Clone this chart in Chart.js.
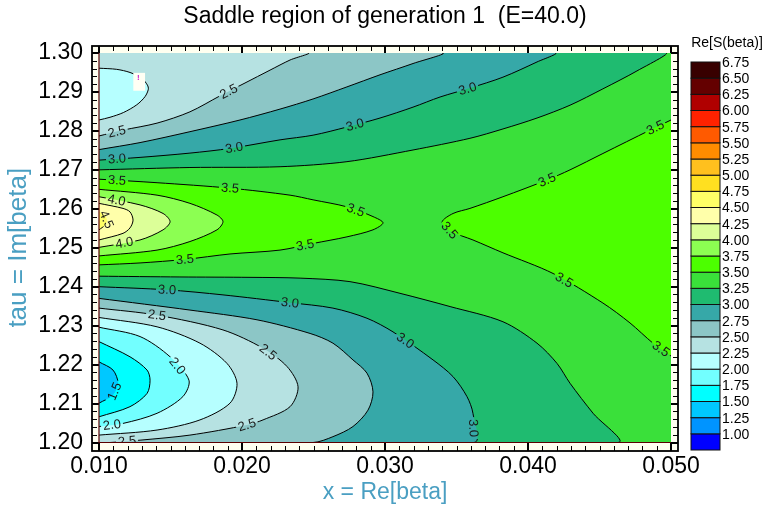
<!DOCTYPE html>
<html><head><meta charset="utf-8">
<script src="https://cdn.jsdelivr.net/npm/chart.js@4/dist/chart.umd.min.js"></script>
<style>html,body{margin:0;padding:0;background:#fff;}canvas{display:block;}</style>
</head><body>
<canvas id="c" width="763" height="506"></canvas>
<script>
const X_MIN = 0.010, X_MAX = 0.050, Y_MIN = 1.200, Y_MAX = 1.300;
const xTickValues = [0.010, 0.020, 0.030, 0.040, 0.050];
const xTickLabels = ['0.010', '0.020', '0.030', '0.040', '0.050'];
const yTickValues = [1.20, 1.21, 1.22, 1.23, 1.24, 1.25, 1.26, 1.27, 1.28, 1.29, 1.30];
const yTickLabels = ['1.20', '1.21', '1.22', '1.23', '1.24', '1.25', '1.26', '1.27', '1.28', '1.29', '1.30'];

// colour bands (lower bound of each band) and colours
const bandLevels = [0.75, 1.00, 1.25, 1.50, 1.75, 2.00, 2.25, 2.50, 2.75, 3.00, 3.25, 3.50,
                    3.75, 4.00, 4.25, 4.50, 4.75, 5.00, 5.25, 5.50, 5.75, 6.00, 6.25, 6.50];
const bandColors = ['#0000ff', '#0094ff', '#00c8ff', '#00ffff', '#72ffff', '#b6ffff', '#b6e2e2', '#8cc6c6',
                    '#36a8a8', '#1fbb70', '#3ae03a', '#4cff00', '#8cff52', '#dcff98', '#ffffaa', '#ffff66',
                    '#ffe020', '#ffc01e', '#ff8c00', '#ff5a00', '#ff2200', '#b00000', '#640000', '#380000'];
const colorbarLabels = ['1.00', '1.25', '1.50', '1.75', '2.00', '2.25', '2.50', '2.75', '3.00', '3.25', '3.50', '3.75',
                        '4.00', '4.25', '4.50', '4.75', '5.00', '5.25', '5.50', '5.75', '6.00', '6.25', '6.50', '6.75'];

// contour lines: [x, tau]
const c225Top = [[0.0100,1.2961],[0.01124,1.2958],[0.01217,1.2950],[0.01299,1.2935],[0.01338,1.2918],[0.01345,1.2907],[0.01322,1.2888],[0.01264,1.2867],[0.01170,1.2847],[0.01077,1.2835],[0.0100,1.2828]];
const c25Top = [[0.0100,1.2787],[0.01168,1.2802],[0.01406,1.2820],[0.01636,1.2849],[0.01846,1.2890],[0.02021,1.2923],[0.02196,1.2956],[0.02336,1.2982],[0.02462,1.3000]];
const c275Top = [[0.0100,1.2752],[0.01287,1.2770],[0.01636,1.2798],[0.01986,1.2828],[0.02266,1.2856],[0.02497,1.2882],[0.02734,1.2913],[0.02965,1.2944],[0.03196,1.2973],[0.03399,1.3000]];
const c30Top = [[0.0100,1.2725],[0.01287,1.2732],[0.01636,1.2743],[0.01916,1.2755],[0.02266,1.2777],[0.02497,1.2789],[0.02734,1.2810],[0.02965,1.2833],[0.03196,1.2861],[0.03385,1.2887],[0.03594,1.2910],[0.03825,1.2938],[0.04063,1.2977],[0.04189,1.3000]];
const c325Top = [[0.0100,1.2700],[0.01636,1.2706],[0.02266,1.2708],[0.02734,1.2721],[0.03196,1.2751],[0.03594,1.2781],[0.03825,1.2805],[0.04063,1.2833],[0.04294,1.2866],[0.04524,1.2908],[0.04762,1.2954],[0.04965,1.3000]];
const c35Left = [[0.0100,1.2676],[0.01406,1.2667],[0.01916,1.2653],[0.02336,1.2635],[0.02497,1.2623],[0.02734,1.2605],[0.02916,1.2580],[0.02986,1.2564],[0.02916,1.2546],[0.02734,1.2528],[0.02497,1.2511],[0.02266,1.2494],[0.01916,1.2484],[0.01601,1.2470],[0.01287,1.2461],[0.0100,1.2456]];
const c35Right = [[0.0500,1.2828],[0.04853,1.2802],[0.04524,1.2742],[0.04294,1.2700],[0.04133,1.2674],[0.03825,1.2631],[0.03594,1.2601],[0.03476,1.2588],[0.03399,1.2566],[0.03455,1.2543],[0.03615,1.2520],[0.03825,1.2487],[0.04175,1.2434],[0.04524,1.2358],[0.04713,1.2307],[0.04874,1.2255],[0.0500,1.2222]];
const c375Left = [[0.0100,1.2650],[0.01406,1.2635],[0.01636,1.2614],[0.01825,1.2584],[0.01867,1.2567],[0.01825,1.2546],[0.01636,1.2516],[0.01406,1.2494],[0.0100,1.2479]];
const c40Left = [[0.0100,1.2631],[0.01287,1.2610],[0.01448,1.2588],[0.01497,1.2567],[0.01448,1.2546],[0.01287,1.2520],[0.0100,1.2501]];
const c425Left = [[0.0100,1.2614],[0.01168,1.2601],[0.01217,1.2592],[0.01238,1.2571],[0.01217,1.2551],[0.01168,1.2537],[0.0100,1.2520]];
const c45Left = [[0.0100,1.2594],[0.01042,1.2582],[0.01056,1.2570],[0.01042,1.2558],[0.0100,1.2546]];
const c325Bot = [[0.0100,1.2427],[0.01566,1.2425],[0.02056,1.2424],[0.02406,1.2422],[0.02755,1.2413],[0.03105,1.2383],[0.03455,1.2349],[0.03825,1.2310],[0.04063,1.2255],[0.04203,1.2203],[0.04294,1.2152],[0.04455,1.2075],[0.04629,1.2000]];
const c30Bot = [[0.0100,1.2400],[0.01476,1.2392],[0.01867,1.2379],[0.02336,1.2359],[0.02636,1.2345],[0.02874,1.2319],[0.03056,1.2284],[0.03336,1.2212],[0.03476,1.2169],[0.03573,1.2118],[0.03615,1.2075],[0.03622,1.2000]];
const c275Bot = [[0.0100,1.2370],[0.01636,1.2340],[0.02105,1.2315],[0.02476,1.2280],[0.02636,1.2255],[0.02776,1.2212],[0.02874,1.2178],[0.02916,1.2130],[0.02881,1.2083],[0.02776,1.2041],[0.02636,1.2015],[0.02497,1.2000]];
const c25Bot = [[0.0100,1.2345],[0.01406,1.2327],[0.01867,1.2289],[0.02147,1.2242],[0.02315,1.2195],[0.02392,1.2143],[0.02336,1.2092],[0.02147,1.2058],[0.02035,1.2045],[0.01636,1.2019],[0.01287,1.2006],[0.01077,1.2000]];
const c225Bot = [[0.0100,1.2321],[0.01406,1.2297],[0.01706,1.2255],[0.01895,1.2203],[0.01965,1.2152],[0.01916,1.2101],[0.01706,1.2058],[0.01406,1.2032],[0.0100,1.2019]];
const c20Bot = [[0.0100,1.2296],[0.01287,1.2272],[0.01497,1.2220],[0.01629,1.2160],[0.01587,1.2118],[0.01406,1.2075],[0.01168,1.2049],[0.0100,1.2041]];
const c175Bot = [[0.0100,1.2259],[0.01217,1.2220],[0.01336,1.2186],[0.01357,1.2160],[0.01336,1.2126],[0.01217,1.2092],[0.0100,1.2066]];
const c15Bot = [[0.0100,1.2207],[0.01098,1.2186],[0.01133,1.2152],[0.01098,1.2122],[0.0100,1.2101]];

// contour labels: [x, tau, text, contour]
const contourLabels = [
  [0.01126,1.2797,'2.5',c25Top],[0.01902,1.2905,'2.5',c25Top],
  [0.01126,1.2728,'3.0',c30Top],[0.01944,1.2759,'3.0',c30Top],[0.0279,1.2815,'3.0',c30Top],[0.0358,1.2905,'3.0',c30Top],
  [0.01126,1.2674,'3.5',c35Left],[0.01916,1.2653,'3.5',c35Left],[0.0279,1.2592,'3.5',c35Left],
  [0.03455,1.2546,'3.5',c35Right],[0.04133,1.2674,'3.5',c35Right],[0.04888,1.2810,'3.5',c35Right],
  [0.01126,1.2628,'4.0',c40Left],[0.01042,1.2571,'4.5',c45Left],[0.01182,1.2503,'4.0',c40Left],
  [0.01601,1.2467,'3.5',c35Left],[0.02441,1.2507,'3.5',c35Left],[0.04245,1.2412,'3.5',c35Right],[0.04923,1.2237,'3.5',c35Right],
  [0.01476,1.2392,'3.0',c30Bot],[0.02336,1.2361,'3.0',c30Bot],[0.03154,1.2268,'3.0',c30Bot],[0.03622,1.2037,'3.0',c30Bot],
  [0.01406,1.2327,'2.5',c25Bot],[0.02182,1.2232,'2.5',c25Bot],[0.02035,1.2045,'2.5',c25Bot],[0.01196,1.2004,'2.5',c25Bot],
  [0.01566,1.2202,'2.0',c20Bot],[0.01091,1.2045,'2.0',c20Bot],[0.01084,1.2135,'1.5',c15Bot]
];
const noteBox = [0.01240, 1.2949, 0.01322, 1.2903];

const titleText = 'Saddle region of generation 1  (E=40.0)';
const FONT = "'Liberation Sans', Arial, Helvetica, sans-serif";
Chart.defaults.font.family = FONT;

// region table: [contour, closing corner or null, band lower bound]
const TL = [X_MIN, Y_MAX], BL = [X_MIN, Y_MIN];
const regions = [
  [c35Left, null, 3.50], [c35Right, null, 3.50], [c375Left, null, 3.75], [c40Left, null, 4.00],
  [c425Left, null, 4.25], [c45Left, null, 4.50],
  [c325Top, TL, 3.00], [c30Top, TL, 2.75], [c275Top, TL, 2.50], [c25Top, TL, 2.25], [c225Top, null, 2.00],
  [c325Bot, BL, 3.00], [c30Bot, BL, 2.75], [c275Bot, BL, 2.50], [c25Bot, BL, 2.25], [c225Bot, null, 2.00],
  [c20Bot, null, 1.75], [c175Bot, null, 1.50], [c15Bot, null, 1.25]
];
const colorFor = lvl => bandColors[bandLevels.indexOf(lvl)];
const toPts = arr => arr.map(p => ({x: p[0], y: p[1]}));
const common = {showLine: true, pointRadius: 0, pointHoverRadius: 0, tension: 0.3};
const fillSets = [{...common, tension: 0, data: toPts([[X_MIN,Y_MIN],[X_MAX,Y_MIN],[X_MAX,Y_MAX],[X_MIN,Y_MAX]]),
  fill: 'shape', backgroundColor: colorFor(3.25), borderColor: 'rgba(0,0,0,0)', borderWidth: 0}];
const lineSets = [];
regions.forEach(([pts, corner, lvl]) => {
  const all = corner ? pts.concat([corner]) : pts.slice();
  const n = pts.length;
  fillSets.push({...common, data: toPts(all), fill: 'shape', backgroundColor: colorFor(lvl),
    borderColor: 'rgba(0,0,0,0)', borderWidth: 0});
  lineSets.push({...common, data: toPts(all), fill: false, borderColor: '#000', borderWidth: 1, isContour: true,
    segment: {borderColor: c => c.p1DataIndex >= n ? 'rgba(0,0,0,0)' : '#000'}});
});
const datasets = fillSets.concat(lineSets);
datasets.forEach((d, i) => { d.order = datasets.length - i; });

const LABEL_FONT = '13px ' + FONT;
const labelPlugin = {
  id: 'contourLabels',
  beforeDatasetsDraw(chart) {
    const xs = chart.scales.x, ys = chart.scales.y, ctx = chart.ctx;
    ctx.save();
    ctx.font = LABEL_FONT;
    chart.$lbl = contourLabels.map(([lx, ly, text, pts]) => {
      const px = xs.getPixelForValue(lx), py = ys.getPixelForValue(ly);
      let best = null;
      for (let i = 0; i < pts.length - 1; i++) {
        const ax = xs.getPixelForValue(pts[i][0]), ay = ys.getPixelForValue(pts[i][1]);
        const bx = xs.getPixelForValue(pts[i+1][0]), by = ys.getPixelForValue(pts[i+1][1]);
        const dx = bx - ax, dy = by - ay, L2 = dx*dx + dy*dy || 1;
        let t = ((px-ax)*dx + (py-ay)*dy) / L2; t = Math.max(0, Math.min(1, t));
        const qx = ax + t*dx, qy = ay + t*dy, d = (qx-px)**2 + (qy-py)**2;
        if (!best || d < best.d) best = {d, qx, qy, ang: Math.atan2(dy, dx)};
      }
      let a = best.ang;
      if (a > Math.PI/2 - 1e-3) a -= Math.PI;
      if (a < -Math.PI/2 - 1e-3) a += Math.PI;
      return {x: best.qx, y: best.qy, a, w: ctx.measureText(text).width + 4, h: 11, text};
    });
    ctx.restore();
  },
  beforeDatasetDraw(chart, args) {
    if (!chart.data.datasets[args.index].isContour) return;
    const ctx = chart.ctx;
    ctx.save();
    ctx.beginPath();
    ctx.rect(0, 0, chart.width, chart.height);
    for (const b of chart.$lbl) {
      const c = Math.cos(b.a), s = Math.sin(b.a), hw = b.w/2, hh = b.h/2;
      const pts = [[-hw,-hh],[hw,-hh],[hw,hh],[-hw,hh]].map(([u,v]) => [b.x + u*c - v*s, b.y + u*s + v*c]);
      ctx.moveTo(pts[0][0], pts[0][1]);
      for (let k = 1; k < 4; k++) ctx.lineTo(pts[k][0], pts[k][1]);
      ctx.closePath();
    }
    ctx.clip('evenodd');
  },
  afterDatasetDraw(chart, args) {
    if (!chart.data.datasets[args.index].isContour) return;
    chart.ctx.restore();
  },
  afterDatasetsDraw(chart) {
    const ctx = chart.ctx, a = chart.chartArea, xs = chart.scales.x, ys = chart.scales.y;
    ctx.save();
    ctx.beginPath(); ctx.rect(a.left, a.top, a.right - a.left, a.bottom - a.top); ctx.clip();
    // note box
    const bx0 = xs.getPixelForValue(noteBox[0]), by0 = ys.getPixelForValue(noteBox[1]);
    const bx1 = xs.getPixelForValue(noteBox[2]), by1 = ys.getPixelForValue(noteBox[3]);
    ctx.fillStyle = '#fffff4';
    ctx.fillRect(bx0, by0, bx1 - bx0, by1 - by0);
    ctx.fillStyle = '#cc22cc';
    ctx.font = 'bold 8px ' + FONT; ctx.textAlign = 'center'; ctx.textBaseline = 'top';
    ctx.fillText('!', bx0 + 5, by0 + 1);
    ctx.font = LABEL_FONT; ctx.fillStyle = '#1a1a1a';
    ctx.textAlign = 'center'; ctx.textBaseline = 'middle';
    for (const b of chart.$lbl) {
      ctx.save(); ctx.translate(b.x, b.y); ctx.rotate(b.a); ctx.fillText(b.text, 0, 0.5); ctx.restore();
    }
    ctx.restore();
  }
};

const framePlugin = {
  id: 'frame',
  afterDraw(chart) {
    const {ctx, chartArea: a} = chart, xs = chart.scales.x, ys = chart.scales.y;
    const L = a.left - 7, T = a.top - 7, R = a.right + 7, B = a.bottom + 8.5;
    ctx.save();
    ctx.fillStyle = '#fffff0';
    ctx.fillRect(L, T, R - L, a.top - T);
    ctx.fillRect(L, a.bottom, R - L, B - a.bottom);
    ctx.fillRect(L, a.top, a.left - L, a.bottom - a.top);
    ctx.fillRect(a.right, a.top, R - a.right, a.bottom - a.top);
    ctx.strokeStyle = '#000';
    for (let i = 10; i <= 50; i++) {
      const major = i % 10 === 0;
      const px = Math.round(xs.getPixelForValue(i / 1000)) + (major ? 0 : 0.5);
      ctx.lineWidth = major ? 2 : 1;
      ctx.beginPath();
      ctx.moveTo(px, B); ctx.lineTo(px, major ? a.bottom : B - 5);
      ctx.moveTo(px, T); ctx.lineTo(px, major ? a.top : T + 5);
      ctx.stroke();
    }
    for (let i = 600; i <= 650; i++) {
      const major = i % 5 === 0;
      const py = Math.round(ys.getPixelForValue(i / 500)) + (major ? 0 : 0.5);
      ctx.lineWidth = major ? 2 : 1;
      ctx.beginPath();
      ctx.moveTo(L, py); ctx.lineTo(major ? a.left : L + 5, py);
      ctx.moveTo(R, py); ctx.lineTo(major ? a.right : R - 5, py);
      ctx.stroke();
    }
    ctx.strokeStyle = '#5a0000'; ctx.lineWidth = 1.2;
    ctx.beginPath();
    ctx.moveTo(a.left, a.top); ctx.lineTo(a.left, a.bottom); ctx.lineTo(a.right, a.bottom);
    ctx.stroke();
    ctx.strokeStyle = '#000'; ctx.lineWidth = 1.8;
    ctx.strokeRect(L, T, R - L, B - T);
    ctx.restore();
  }
};

const colorbarPlugin = {
  id: 'colorbar',
  afterDraw(chart) {
    const ctx = chart.ctx, a = chart.chartArea;
    const left = a.right + 20, w = 29, top = a.top + 9, bottom = a.bottom + 7.5;
    const h = (bottom - top) / bandColors.length;
    ctx.save();
    ctx.lineWidth = 1; ctx.strokeStyle = '#111';
    bandColors.forEach((col, i) => {
      const y = bottom - (i + 1) * h;
      ctx.fillStyle = col;
      ctx.fillRect(left, y, w, h);
      ctx.strokeRect(left, y, w, h);
    });
    ctx.fillStyle = '#000';
    ctx.font = '14px ' + FONT;
    ctx.textAlign = 'left'; ctx.textBaseline = 'middle';
    colorbarLabels.forEach((t, k) => { ctx.fillText(t, left + w + 2, bottom - (k + 1) * h + 1); });
    ctx.textAlign = 'center';
    ctx.fillText('Re[S(beta)]', left + 36, a.top - 10);
    ctx.restore();
  }
};

const axisTitleColor = '#4a9fc2';
new Chart(document.getElementById('c'), {
  type: 'scatter',
  data: {datasets},
  options: {
    responsive: false, animation: false, events: [], devicePixelRatio: 1,
    layout: {padding: {left: 0, right: 92, top: 0, bottom: 0}},
    plugins: {
      legend: {display: false}, tooltip: {enabled: false},
      title: {display: true, text: titleText, fullSize: false, color: '#000',
        font: {size: 23, weight: 'normal'}, padding: {top: 3, bottom: 22.4}}
    },
    scales: {
      x: {
        type: 'linear', min: X_MIN, max: X_MAX,
        afterBuildTicks: s => { s.ticks = xTickValues.map(v => ({value: v})); },
        afterFit: s => { s.height = 63.5; },
        ticks: {callback: (v, i) => xTickLabels[i], font: {size: 23}, color: '#000', padding: 10.5,
          maxRotation: 0, autoSkip: false},
        grid: {display: false, drawTicks: false}, border: {display: false},
        title: {display: true, text: 'x = Re[beta]', color: axisTitleColor, font: {size: 23},
          padding: {top: 0, bottom: 0}}
      },
      y: {
        type: 'linear', min: Y_MIN, max: Y_MAX,
        afterBuildTicks: s => { s.ticks = yTickValues.map(v => ({value: v})); },
        afterFit: s => { s.width = 99; },
        ticks: {callback: (v, i) => yTickLabels[i], font: {size: 23}, color: '#000', padding: 16, autoSkip: false},
        grid: {display: false, drawTicks: false}, border: {display: false},
        title: {display: true, text: 'tau = Im[beta]', color: axisTitleColor, font: {size: 26},
          padding: {top: 3, bottom: 0}}
      }
    }
  },
  plugins: [labelPlugin, framePlugin, colorbarPlugin]
});
</script>
</body></html>
